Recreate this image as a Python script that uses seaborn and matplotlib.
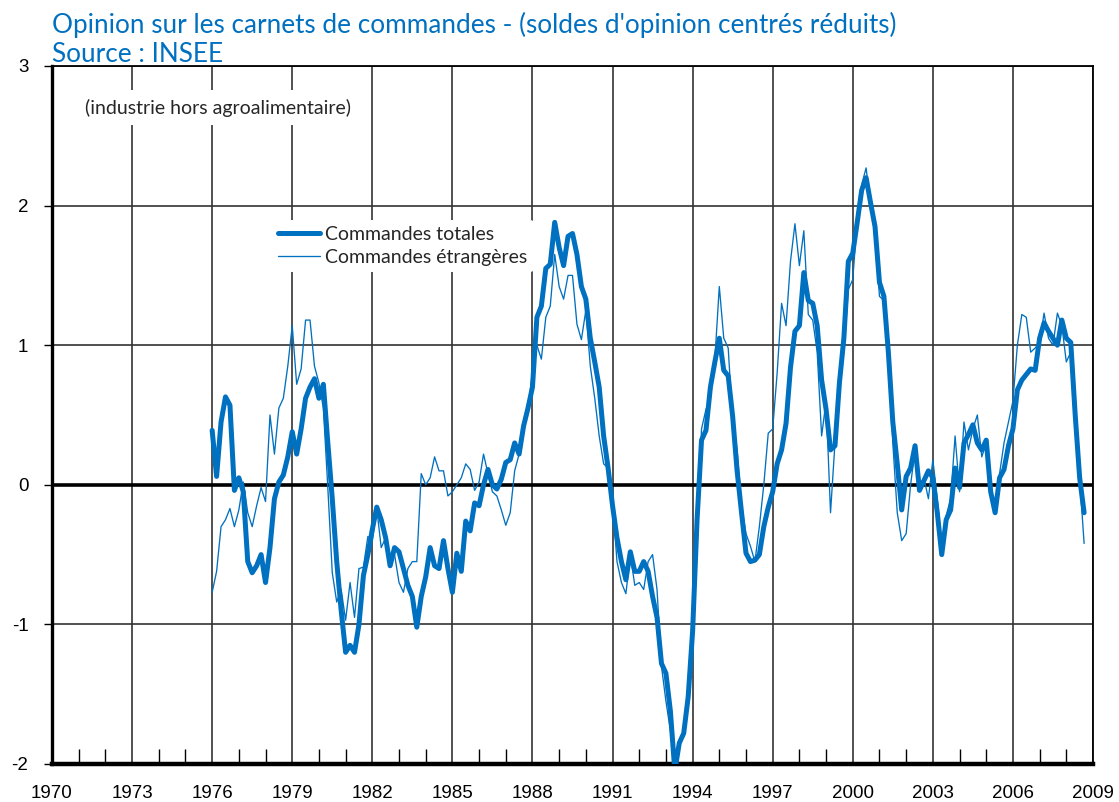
import numpy as np
import pandas as pd
import matplotlib
matplotlib.use("Agg")
import matplotlib.pyplot as plt
from matplotlib.lines import Line2D
import seaborn as sns

# ---- data (bimonthly readings, Jan 1976 .. Sep 2008) ----
start_year = 1976
periods_per_year = 6

total = [
    0.39, 0.06, 0.45, 0.63, 0.57, -0.04,      # 1976
    0.05, -0.05, -0.55, -0.63, -0.58, -0.50,  # 1977
    -0.70, -0.45, -0.10, 0.02, 0.07, 0.20,    # 1978
    0.38, 0.22, 0.40, 0.62, 0.70, 0.76,       # 1979
    0.62, 0.72, 0.30, -0.10, -0.55, -0.90,    # 1980
    -1.20, -1.15, -1.20, -1.00, -0.65, -0.50, # 1981
    -0.32, -0.16, -0.25, -0.38, -0.58, -0.45, # 1982
    -0.48, -0.60, -0.72, -0.80, -1.02, -0.80, # 1983
    -0.66, -0.45, -0.58, -0.60, -0.40, -0.60, # 1984
    -0.77, -0.49, -0.62, -0.26, -0.33, -0.13, # 1985
    -0.15, 0.00, 0.11, 0.00, -0.03, 0.04,     # 1986
    0.16, 0.18, 0.30, 0.22, 0.42, 0.55,       # 1987
    0.70, 1.20, 1.28, 1.55, 1.58, 1.88,       # 1988
    1.70, 1.57, 1.78, 1.80, 1.65, 1.42,       # 1989
    1.33, 1.05, 0.88, 0.70, 0.35, 0.12,       # 1990
    -0.15, -0.38, -0.55, -0.68, -0.48, -0.62, # 1991
    -0.62, -0.55, -0.62, -0.80, -0.95, -1.28, # 1992
    -1.35, -1.62, -2.05, -1.85, -1.78, -1.52, # 1993
    -1.05, -0.25, 0.32, 0.39, 0.70, 0.88,     # 1994
    1.05, 0.82, 0.78, 0.49, 0.10, -0.20,      # 1995
    -0.49, -0.55, -0.54, -0.50, -0.30, -0.16, # 1996
    -0.05, 0.15, 0.25, 0.44, 0.84, 1.10,      # 1997
    1.14, 1.52, 1.32, 1.30, 1.14, 0.75,       # 1998
    0.54, 0.25, 0.28, 0.73, 1.05, 1.60,       # 1999
    1.66, 1.88, 2.11, 2.20, 2.02, 1.85,       # 2000
    1.45, 1.35, 0.95, 0.45, 0.15, -0.18,      # 2001
    0.06, 0.12, 0.28, -0.04, 0.03, 0.10,      # 2002
    0.05, -0.20, -0.50, -0.25, -0.18, 0.12,   # 2003
    -0.02, 0.30, 0.36, 0.43, 0.30, 0.25,      # 2004
    0.32, -0.05, -0.20, 0.05, 0.11, 0.28,     # 2005
    0.40, 0.68, 0.75, 0.79, 0.83, 0.82,       # 2006
    1.05, 1.16, 1.10, 1.05, 1.00, 1.18,       # 2007
    1.05, 1.02, 0.50, 0.05, -0.20,            # 2008
]

foreign = [
    -0.77, -0.62, -0.30, -0.25, -0.17, -0.30, # 1976
    -0.18, 0.02, -0.20, -0.30, -0.15, -0.02,  # 1977
    -0.12, 0.50, 0.22, 0.55, 0.62, 0.85,      # 1978
    1.14, 0.72, 0.83, 1.18, 1.18, 0.85,       # 1979
    0.73, 0.55, -0.02, -0.63, -0.84, -0.75,   # 1980
    -0.97, -0.70, -0.95, -0.60, -0.59, -0.37, # 1981
    -0.40, -0.17, -0.45, -0.38, -0.55, -0.50, # 1982
    -0.70, -0.77, -0.60, -0.55, -0.55, 0.08,  # 1983
    0.00, 0.05, 0.20, 0.10, 0.10, -0.08,      # 1984
    -0.05, 0.00, 0.05, 0.15, 0.11, -0.04,     # 1985
    0.02, 0.22, 0.08, -0.05, -0.08, -0.18,    # 1986
    -0.29, -0.20, 0.10, 0.22, 0.38, 0.55,     # 1987
    0.80, 1.00, 0.90, 1.20, 1.28, 1.65,       # 1988
    1.42, 1.33, 1.50, 1.50, 1.15, 1.04,       # 1989
    1.25, 0.85, 0.62, 0.35, 0.15, 0.12,       # 1990
    -0.12, -0.55, -0.70, -0.78, -0.50, -0.72, # 1991
    -0.70, -0.75, -0.55, -0.50, -0.75, -1.30, # 1992
    -1.55, -1.76, -1.98, -1.85, -1.78, -1.45, # 1993
    -0.95, -0.40, 0.40, 0.54, 0.62, 0.90,     # 1994
    1.42, 1.05, 0.98, 0.45, 0.25, -0.15,      # 1995
    -0.35, -0.44, -0.55, -0.30, 0.00, 0.37,   # 1996
    0.40, 0.80, 1.30, 1.14, 1.60, 1.87,       # 1997
    1.57, 1.82, 1.22, 1.18, 0.95, 0.35,       # 1998
    0.60, -0.20, 0.30, 0.78, 0.95, 1.40,      # 1999
    1.47, 1.90, 2.15, 2.27, 2.00, 1.80,       # 2000
    1.35, 1.32, 0.95, 0.30, -0.20, -0.40,     # 2001
    -0.35, 0.00, 0.25, 0.00, 0.05, -0.10,     # 2002
    0.18, -0.10, -0.45, -0.22, -0.10, 0.35,   # 2003
    -0.05, 0.45, 0.25, 0.40, 0.50, 0.20,      # 2004
    0.30, -0.08, -0.15, 0.08, 0.30, 0.45,     # 2005
    0.60, 1.00, 1.22, 1.20, 0.95, 0.98,       # 2006
    1.02, 1.23, 1.05, 1.00, 1.23, 1.14,       # 2007
    0.88, 0.95, 0.55, 0.05, -0.42,            # 2008
]

x_labels = [str(y) for y in range(1970, 2010, 3)]
y_ticks = [-2, -1, 0, 1, 2, 3]

title_text = "Opinion sur les carnets de commandes - (soldes d'opinion centrés réduits)"
source_text = "Source : INSEE"
note_text = "(industrie hors agroalimentaire)"
label_total = "Commandes totales"
label_foreign = "Commandes étrangères"

# ---- build frame ----
dates = start_year + np.arange(len(total)) / periods_per_year
df = pd.DataFrame({"date": dates, "total": total, "foreign": foreign})

BLUE = "#0070C0"

sns.set_theme(style="white")
plt.rcParams["font.family"] = ["Liberation Sans", "DejaVu Sans"]

fig = plt.figure(figsize=(11.19, 8.02), dpi=100)
ax = fig.add_axes([52 / 1119, 1 - 764 / 802, (1093 - 52) / 1119, (764 - 66) / 802])

sns.lineplot(data=df, x="date", y="foreign", ax=ax, color=BLUE, linewidth=0.95, zorder=3)
sns.lineplot(data=df, x="date", y="total", ax=ax, color=BLUE, linewidth=3.6, zorder=4,
             solid_joinstyle="round")

ax.set_xlim(1970, 2009)
ax.set_ylim(-2, 3)
ax.set_xlabel("")
ax.set_ylabel("")

ax.set_xticks(list(range(1970, 2010, 3)))
ax.set_xticklabels(x_labels)
ax.set_xticks(list(range(1970, 2010)), minor=True)
ax.set_yticks(y_ticks)
ax.set_yticklabels([str(v) for v in y_ticks])

ax.tick_params(axis="x", which="major", length=0, pad=15, labelsize=13.5, colors="black")
ax.tick_params(axis="x", which="minor", bottom=True, top=False, direction="in",
               length=11, width=1.0, color="black")
ax.tick_params(axis="y", which="major", left=True, length=6, width=1.0, pad=11,
               labelsize=13.5, colors="black", direction="out")

ax.set_axisbelow(True)
ax.grid(True, which="major", axis="both", color="#333333", linewidth=1.2)
ax.axhline(0, color="black", linewidth=2.6, zorder=2.5)

for side, lw in [("left", 2.4), ("bottom", 3.2), ("top", 1.3), ("right", 1.3)]:
    ax.spines[side].set_visible(True)
    ax.spines[side].set_color("black")
    ax.spines[side].set_linewidth(lw)

title_font = ["Lato", "DejaVu Sans"]
fig.text(52 / 1119, 1 - 25 / 802, title_text, color=BLUE, fontsize=18.8,
         family=title_font, va="center", ha="left")
fig.text(52 / 1119, 1 - 54 / 802, source_text, color=BLUE, fontsize=18.8,
         family=title_font, va="center", ha="left")

ax.text(1971.25, 2.70, note_text, fontsize=14, family=title_font, va="center", ha="left",
        bbox=dict(facecolor="white", edgecolor="none", pad=6), zorder=5)

handles = [Line2D([0], [0], color=BLUE, linewidth=3.6),
           Line2D([0], [0], color=BLUE, linewidth=0.95)]
leg = ax.legend(handles, [label_total, label_foreign], loc="upper left",
                bbox_to_anchor=((272 - 52) / 1041, (764 - 220) / 698), frameon=True,
                prop={"family": title_font, "size": 14},
                handlelength=2.15, handletextpad=0.3, labelspacing=0.32,
                borderpad=0.3, borderaxespad=0)
leg.get_frame().set_facecolor("white")
leg.get_frame().set_edgecolor("none")
leg.get_frame().set_alpha(1)
leg.set_zorder(6)

fig.savefig("out.png", dpi=100)
